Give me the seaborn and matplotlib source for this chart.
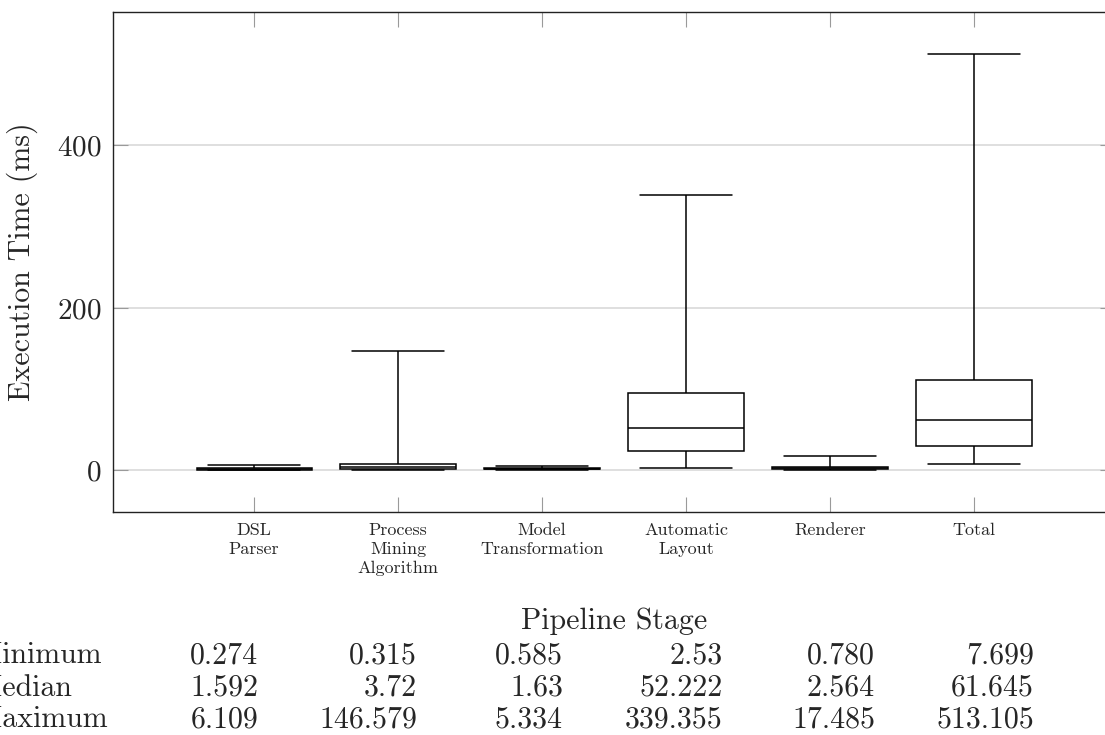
import numpy as np
import pandas as pd
import matplotlib
matplotlib.use("Agg")
import matplotlib.pyplot as plt
import seaborn as sns

stages = ["DSL\nParser", "Process\nMining\nAlgorithm", "Model\nTransformation",
          "Automatic\nLayout", "Renderer", "Total"]
min_text = ["0.274", "0.315", "0.585", "2.53", "0.780", "7.699"]
median_text = ["1.592", "3.72", "1.63", "52.222", "2.564", "61.645"]
max_text = ["6.109", "146.579", "5.334", "339.355", "17.485", "513.105"]
# quartiles
q1 = [1.0, 1.2, 1.1, 24.0, 1.8, 30.0]
q3 = [2.4, 7.6, 2.4, 95.0, 3.6, 111.0]

minimum = [float(v) for v in min_text]
median = [float(v) for v in median_text]
maximum = [float(v) for v in max_text]

rows = []
for i, s in enumerate(stages):
    for v in (minimum[i], q1[i], median[i], q3[i], maximum[i]):
        rows.append({"stage": s, "time": v})
df = pd.DataFrame(rows)

sns.set_theme(style="white")
plt.rcParams["font.family"] = ["cmr10", "DejaVu Serif"]
plt.rcParams["axes.formatter.use_mathtext"] = True
plt.rcParams["mathtext.fontset"] = "cm"

fig = plt.figure(figsize=(11.05, 7.35), dpi=100)
W, H = 1105, 735
ax = fig.add_axes([113 / W, (735 - 512) / H, 1002 / W, 500 / H])

sns.boxplot(data=df, x="stage", y="time", order=stages, whis=(0, 100),
            width=0.8, color="white", linecolor="black", linewidth=1.1,
            showfliers=False, ax=ax)

# pgfplots-like whisker caps (80% of the box)
for line in ax.lines:
    xd = np.asarray(line.get_xdata(), dtype=float)
    yd = np.asarray(line.get_ydata(), dtype=float)
    if len(xd) == 2 and yd[0] == yd[1]:
        c = xd.mean()
        w = xd[1] - xd[0]
        if abs(w) < 0.79:
            line.set_xdata([c - 0.32, c + 0.32])

ax.set_xlim(-0.98, 5.98)
ax.set_ylim(-51.3, 564.3)
ax.set_yticks([0, 200, 400])
ax.yaxis.grid(True, color="#d6d6d6", linewidth=1.1)
ax.xaxis.grid(False)
ax.set_axisbelow(True)
for sp in ax.spines.values():
    sp.set_color("#222222")
    sp.set_linewidth(1.0)

ax.tick_params(axis="both", which="major", direction="in", length=10.5,
               width=0.8, color="#9a9a9a", top=True, right=True,
               bottom=True, left=True)
ax.tick_params(axis="x", labelsize=13, pad=8)
ax.tick_params(axis="y", labelsize=21, pad=8)
for lab in ax.get_xticklabels():
    lab.set_multialignment("center")
    lab.set_linespacing(1.3)

ax.set_xlabel("")
ax.set_ylabel("Execution Time (ms)", fontsize=21.5, labelpad=14)

# x axis title
fig.text(614 / W, 1 - 629 / H, "Pipeline Stage", ha="center", va="baseline",
         fontsize=21.5)

# summary table below the chart
row_names = ["Minimum", "Median", "Maximum"]
row_vals = [min_text, median_text, max_text]
row_base = [663, 696, 727]
col_right = [258, 417, 563, 723, 875, 1034]
for name, vals, yb in zip(row_names, row_vals, row_base):
    fig.text(-25 / W, 1 - yb / H, name, ha="left", va="baseline", fontsize=21.5)
    for v, xr in zip(vals, col_right):
        fig.text(xr / W, 1 - yb / H, v, ha="right", va="baseline", fontsize=21.5)

fig.savefig("out.png", dpi=100)
